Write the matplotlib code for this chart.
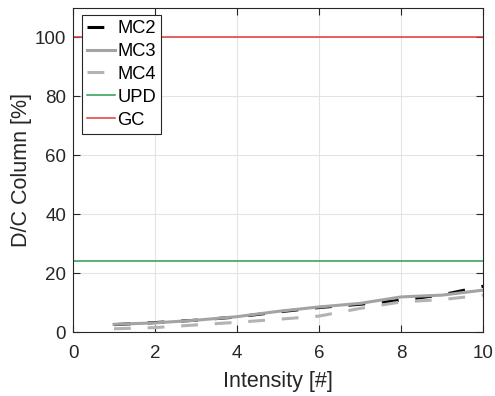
import numpy as np
import matplotlib.pyplot as plt

plt.rcParams['font.family'] = ['Liberation Sans', 'DejaVu Sans']

intensity = [1, 2, 3, 4, 5, 6, 7, 8, 9, 10]
mc2 = [2.5, 3.2, 4.0, 5.1, 6.8, 8.3, 9.4, 10.8, 12.6, 15.5]
mc3 = [2.6, 3.1, 4.0, 5.2, 7.0, 8.5, 9.7, 11.9, 12.5, 14.2]
mc4 = [1.1, 1.5, 2.4, 3.3, 4.3, 5.4, 8.0, 10.2, 11.0, 12.5]
upd_level = 24
gc_level = 100

fig = plt.figure(figsize=(4.95, 3.96), dpi=100)
ax = fig.add_axes([0.1475, 0.1616, 0.8285, 0.8194])

ax.plot(intensity, mc2, color='black', lw=2.2, ls=(0, (5.5, 5.5)), label='MC2')
ax.plot(intensity, mc3, color='#a3a3a3', lw=2.2, ls='-', label='MC3')
ax.plot(intensity, mc4, color='#b3b3b3', lw=2.2, ls=(0, (5.5, 5.5)), label='MC4')
ax.axhline(upd_level, color='#2a9d50', lw=1.1, label='UPD')
ax.axhline(gc_level, color='#e03a3a', lw=1.1, label='GC')

ax.set_xlim(0, 10)
ax.set_ylim(0, 110)
ax.set_xticks(np.arange(0, 11, 2))
ax.set_yticks(np.arange(0, 101, 20))
ax.grid(True, color='#e3e3e3', lw=0.8)
ax.set_axisbelow(True)
ax.tick_params(direction='in', top=True, right=True, labelsize=13.5,
               colors='#262626', length=5)
ax.tick_params(axis='x', pad=9)
ax.tick_params(axis='y', pad=5)
for s in ax.spines.values():
    s.set_color('#262626')
    s.set_linewidth(0.8)

ax.set_xlabel('Intensity [#]', fontsize=15.5, color='#262626', labelpad=7)
ax.set_ylabel('D/C Column [%]', fontsize=15.5, color='#262626', labelpad=2)

leg = ax.legend(loc='upper left', fontsize=13.2, fancybox=False, framealpha=1,
                edgecolor='#262626', borderpad=0.28, labelspacing=0.32,
                handlelength=1.5, handletextpad=0.15, borderaxespad=0,
                bbox_to_anchor=(0.022, 0.977))
leg.get_frame().set_linewidth(0.8)

fig.savefig('out.png', dpi=100)
